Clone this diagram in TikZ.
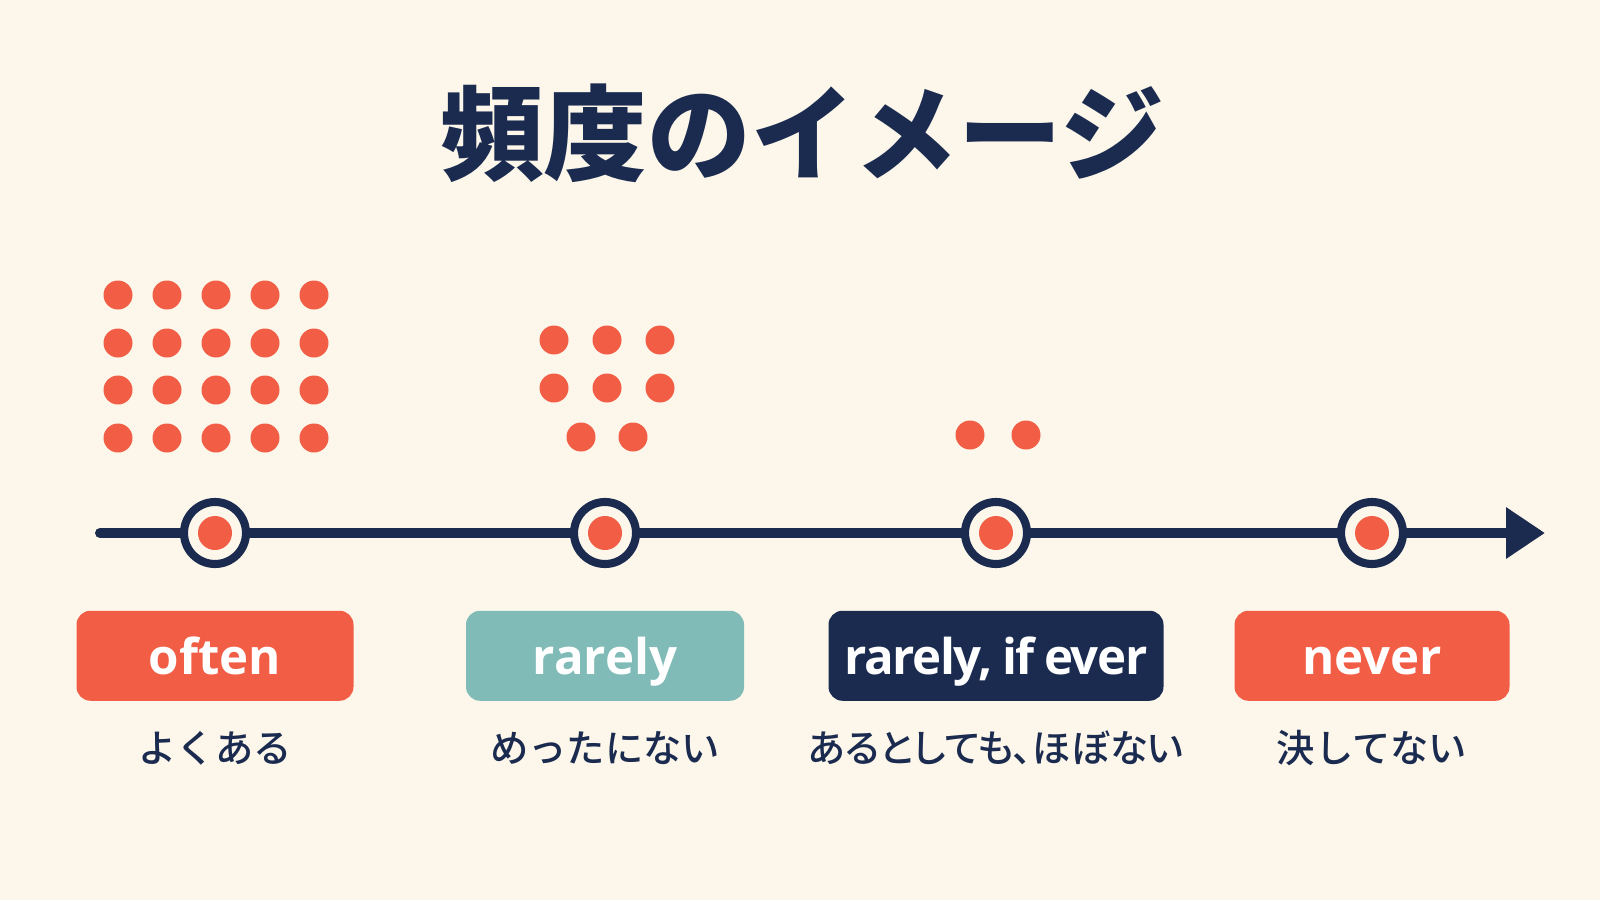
\documentclass[tikz,border=0pt]{standalone}
\usepackage{fontspec}
\newfontfamily\jpfont{Noto Sans CJK JP}
\newfontfamily\jpmedium{Noto Sans CJK JP Medium}
\newfontfamily\enfont{Open Sans}
\newfontfamily\entight{Open Sans}[LetterSpace=-3, WordSpace=0.85]
\usetikzlibrary{arrows.meta, positioning}
\definecolor{cream}{HTML}{FCF7EA}
\definecolor{navy}{HTML}{1B2B50}
\definecolor{coral}{HTML}{F25D46}
\definecolor{mint}{HTML}{80BBB8}

\begin{document}
\begin{tikzpicture}[>=Stealth, node distance=4.2mm and 1cm]
    \tikzstyle{station} = [circle, draw=navy, line width=2.3pt, fill=cream, minimum size=6.2mm, inner sep=0pt]
    \tikzstyle{core} = [circle, fill=coral, minimum size=3.4mm, inner sep=0pt]
    \tikzstyle{tag} = [rectangle, rounded corners=1.4mm, minimum height=9mm, text=white, text height=10.6pt, text depth=0pt, font=\enfont\bfseries\fontsize{14}{16}\selectfont]
    \tikzstyle{gloss} = [inner sep=0pt, text=navy, text height=0.85em, text depth=0.15em, font=\jpmedium\fontsize{10.9}{12}\selectfont]

    % Background
    \fill[cream] (0,0) rectangle (16,9);
    \useasboundingbox (0,0) rectangle (16,9);

    % Title
    \node[text=navy, font=\jpfont\bfseries\fontsize{29.5}{34}\selectfont] (title) at (8.02,7.67) {頻度のイメージ};

    % Draw dots
    \foreach \x in {1.18,1.67,2.16,2.65,3.14}
        \foreach \y in {6.05,5.57,5.10,4.62}
            \fill[coral] (\x,\y) circle (1.45mm);
    \foreach \x in {5.54,6.07,6.60}
        \foreach \y in {5.60,5.12}
            \fill[coral] (\x,\y) circle (1.45mm);
    \fill[coral] (5.81,4.63) circle (1.45mm);
    \fill[coral] (6.33,4.63) circle (1.45mm);
    \fill[coral] (9.70,4.65) circle (1.45mm);
    \fill[coral] (10.26,4.65) circle (1.45mm);

    % Draw axis
    \coordinate (start) at (1.0,3.67);
    \coordinate (end) at (15.45,3.67);
    \draw[navy, line width=2.85pt, line cap=round, -{Triangle[length=3.9mm, width=4.9mm]}] (start) -- (end);

    % Define nodes
    \node[station] (often) at (2.15,3.67) {};
    \node[station] (rarely) at (6.05,3.67) {};
    \node[station] (rife) at (9.96,3.67) {};
    \node[station] (never) at (13.72,3.67) {};
    \node[core] (often core) at (often) {};
    \node[core] (rarely core) at (rarely) {};
    \node[core] (rife core) at (rife) {};
    \node[core] (never core) at (never) {};

    % Labels
    \node[tag, fill=coral, minimum width=2.77cm] (often box) [below=of often] {often};
    \node[tag, fill=mint, minimum width=2.78cm] (rarely box) [below=of rarely] {rarely};
    \node[tag, fill=navy, minimum width=3.35cm] (rife box) [below=of rife] {\entight\bfseries rarely, if ever};
    \node[tag, fill=coral, minimum width=2.75cm] (never box) [below=of never] {never};
    \node[gloss] (often jp) [below=3mm of often box] {よくある};
    \node[gloss] (rarely jp) [below=3mm of rarely box] {めったにない};
    \node[gloss] (rife jp) [below=3mm of rife box] {\addfontfeature{RawFeature=+palt}あるとしても、ほぼない};
    \node[gloss] (never jp) [below=3mm of never box] {決してない};
\end{tikzpicture}
\end{document}
